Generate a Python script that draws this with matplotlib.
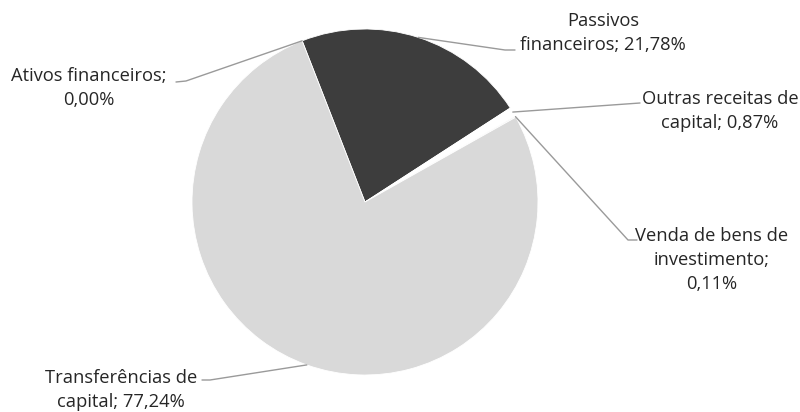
import numpy as np
import matplotlib
matplotlib.use("Agg")
import matplotlib.pyplot as plt

# dados (%)
labels = ["Ativos financeiros", "Passivos financeiros", "Outras receitas de capital",
          "Venda de bens de investimento", "Transferências de capital"]
values = [0.00, 21.78, 0.87, 0.11, 77.24]
label_texts = ["Ativos financeiros;\n0,00%", "Passivos\nfinanceiros; 21,78%",
               "Outras receitas de\ncapital; 0,87%", "Venda de bens de\ninvestimento;\n0,11%",
               "Transferências de\ncapital; 77,24%"]
colors = ["#d9d9d9", "#3d3d3d", "#ffffff", "#e6e6e6", "#d9d9d9"]

# layout (pixels, y para cima)
CENTER = (365, 210)
RADIUS = 173
text_pos = [(89, 324), (603, 379), (720, 301), (712, 152), (121, 22)]
# cotovelo e fim de cada linha de chamada
elbow_pos = [(186, 331), (505, 362), (640, 309), (628, 172), (210, 32)]
end_pos = [(176, 330), (515, 362), (640, 309), (637, 172), (202, 32)]

plt.rcParams['font.family'] = ['Open Sans', 'DejaVu Sans']

fig = plt.figure(figsize=(8, 4.12), dpi=100)
ax = fig.add_axes([0, 0, 1, 1])

wedges, _ = ax.pie(values, colors=colors, startangle=111.3, counterclock=False,
                   center=CENTER, radius=RADIUS, frame=True,
                   wedgeprops=dict(edgecolor="white", linewidth=0.6))
ax.set_xlim(0, 800)
ax.set_ylim(0, 412)
ax.set_aspect("equal")
ax.axis("off")

for w, txt, tp, ep, fp in zip(wedges, label_texts, text_pos, elbow_pos, end_pos):
    ang = np.radians((w.theta1 + w.theta2) / 2)
    ax_x = CENTER[0] + RADIUS * np.cos(ang)
    ax_y = CENTER[1] + RADIUS * np.sin(ang)
    ax.plot([ax_x, ep[0], fp[0]], [ax_y, ep[1], fp[1]], color="#9a9a9a", lw=1.0,
            solid_capstyle="round", solid_joinstyle="round")
    ax.text(tp[0], tp[1], txt, ha="center", va="center", fontsize=13.2,
            color="#262626", linespacing=1.4)

fig.savefig("out.png", dpi=100)
